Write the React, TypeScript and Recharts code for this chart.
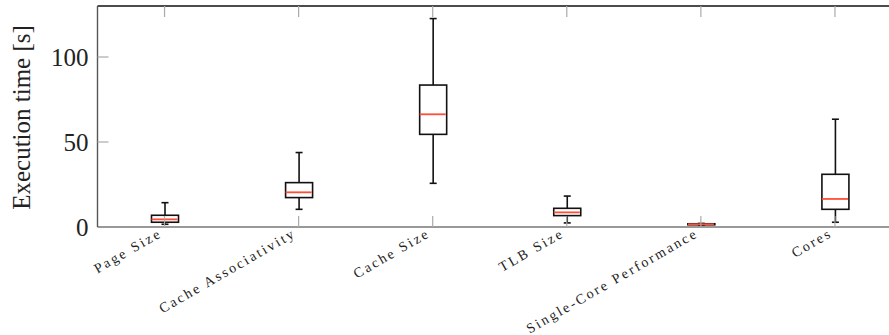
// Execution-time box plots per parameter, drawn with range bars + scatter medians.

import { ComposedChart, Bar, Scatter, XAxis, YAxis, Label } from 'recharts'

const categories = [
  'Page Size',
  'Cache Associativity',
  'Cache Size',
  'TLB Size',
  'Single-Core Performance',
  'Cores',
]
const lowWhisker = [1.6, 10.4, 25.7, 2.4, 1.2, 2.8]
const q1 = [2.8, 17.3, 54.5, 6.7, 1.3, 10.4]
const median = [4.5, 20.4, 66.3, 8.6, 1.6, 16.5]
const q3 = [6.9, 26.1, 83.5, 11.0, 1.9, 31.0]
const highWhisker = [14.3, 43.8, 122.6, 18.2, 2.1, 63.4]
const yTicks = [0, 50, 100]

const data = categories.map((name, i) => ({
  name,
  whisker: [lowWhisker[i], highWhisker[i]],
  box: [q1[i], q3[i]],
  median: median[i],
}))

const SERIF = '"Liberation Serif", "DejaVu Serif", serif'
const RED = '#ff4d36'

const WhiskerShape = (props: any) => {
  const { x, y, width, height } = props
  const cx = x + width / 2
  return (
    <g>
      <line x1={cx} x2={cx} y1={y} y2={y + height} stroke="#111" strokeWidth={1.6} />
      <line x1={cx - 3.5} x2={cx + 3.5} y1={y} y2={y} stroke="#111" strokeWidth={1.6} />
      <line x1={cx - 3.5} x2={cx + 3.5} y1={y + height} y2={y + height} stroke="#111" strokeWidth={1.6} />
    </g>
  )
}

const BoxShape = (props: any) => {
  const { x, y, width, height } = props
  return <rect x={x} y={y} width={width} height={Math.max(height, 0.5)} fill="#fff" stroke="#111" strokeWidth={1.6} />
}

const MedianShape = (props: any) => {
  const { cx, cy } = props
  return <line x1={cx - 13} x2={cx + 13} y1={cy} y2={cy} stroke={RED} strokeWidth={1.8} />
}

const BottomTick = (props: any) => {
  const { x, y, payload } = props
  return (
    <g>
      <line x1={x} x2={x} y1={y} y2={y - 11} stroke="#aaa" strokeWidth={1.2} />
      <g transform={`translate(${x - 4},${y + 5})`}>
        <text
          transform="rotate(-30)"
          textAnchor="end"
          dominantBaseline="central"
          fontFamily={SERIF}
          fontSize={14}
          letterSpacing={2.3}
          fill="#222"
        >
          {payload.value}
        </text>
      </g>
    </g>
  )
}

const TopTick = (props: any) => {
  const { x, y } = props
  return <line x1={x} x2={x} y1={y} y2={y + 11} stroke="#aaa" strokeWidth={1.2} />
}

const LeftTick = (props: any) => {
  const { x, y, payload } = props
  return (
    <g>
      {payload.value !== 0 && <line x1={x} x2={x + 11} y1={y} y2={y} stroke="#aaa" strokeWidth={1.2} />}
      <text x={x - 9} y={y} textAnchor="end" dominantBaseline="central" fontFamily={SERIF} fontSize={25} fill="#222">
        {payload.value}
      </text>
    </g>
  )
}

const YTitle = (props: any) => {
  const { viewBox } = props
  const cy = viewBox.y + viewBox.height / 2 + 1
  return (
    <text
      x={30}
      y={cy}
      transform={`rotate(-90, 30, ${cy})`}
      textAnchor="middle"
      fontFamily={SERIF}
      fontSize={25}
      fill="#222"
    >
      Execution time [s]
    </text>
  )
}

export default function App() {
  return (
    <div style={{ position: 'fixed', left: 0, top: 0, width: 889, height: 335, overflow: 'hidden', background: '#fff' }}>
      <ComposedChart width={902} height={335} data={data} margin={{ top: 0, right: 0, bottom: 0, left: 0 }}>
        <XAxis
          xAxisId="a"
          dataKey="name"
          height={108}
          tickSize={0}
          tickMargin={0}
          interval={0}
          tick={BottomTick}
          axisLine={{ stroke: '#777', strokeWidth: 1.6 }}
        />
        <XAxis xAxisId="b" dataKey="name" hide />
        <XAxis
          xAxisId="top"
          orientation="top"
          dataKey="name"
          height={6}
          tickSize={0}
          tickMargin={0}
          interval={0}
          tick={TopTick}
          axisLine={{ stroke: '#111', strokeWidth: 1.3 }}
        />
        <YAxis
          domain={[0, 130]}
          ticks={yTicks}
          width={97.5}
          tickSize={0}
          tickMargin={0}
          tick={LeftTick}
          axisLine={{ stroke: '#555', strokeWidth: 1.4 }}
        >
          <Label content={YTitle} />
        </YAxis>
        <Bar xAxisId="a" dataKey="whisker" barSize={27} shape={WhiskerShape} isAnimationActive={false} />
        <Bar xAxisId="b" dataKey="box" barSize={27} shape={BoxShape} isAnimationActive={false} />
        <Scatter xAxisId="a" dataKey="median" shape={MedianShape} isAnimationActive={false} />
      </ComposedChart>
    </div>
  )
}
